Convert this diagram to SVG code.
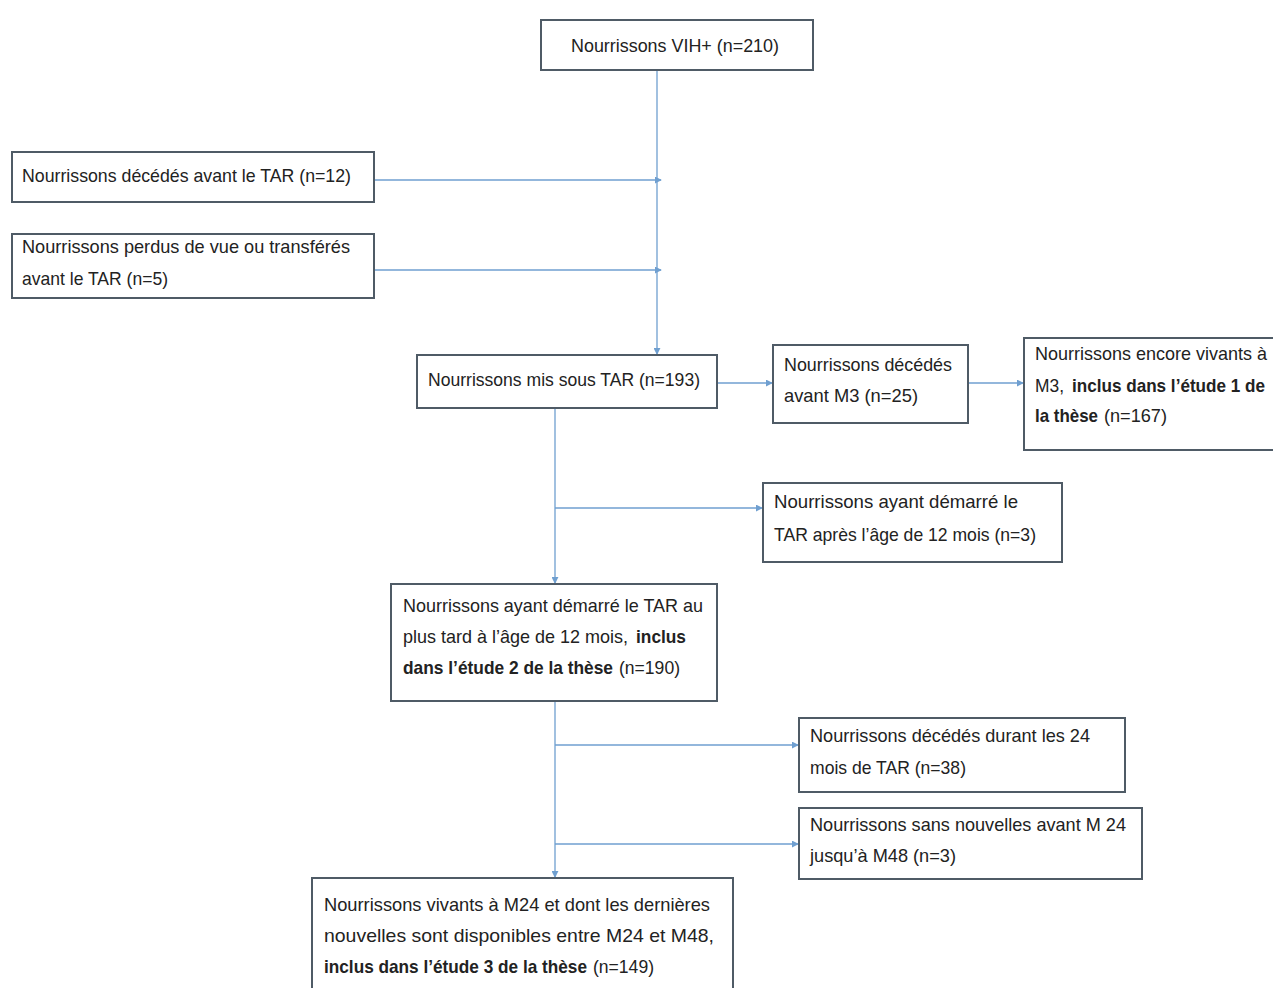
<svg xmlns="http://www.w3.org/2000/svg" width="1273" height="988" viewBox="0 0 1273 988">
<style>
.box{fill:#ffffff;stroke:#4f5b66;stroke-width:2}
.t{font-family:"Liberation Sans",Arial,sans-serif;font-size:19px;fill:#222222}
.b{font-weight:bold}
.c{fill:none;stroke:#6f9fd0;stroke-width:1.3}
</style>
<defs>
<marker id="ah" viewBox="0 0 8 8" refX="7" refY="4" markerWidth="7" markerHeight="7" markerUnits="userSpaceOnUse" orient="auto">
<path d="M0,0 L8,4 L0,8 z" fill="#6f9fd0"/>
</marker>
</defs>
<rect width="1273" height="988" fill="#ffffff"/>
<g id="connectors">
<line class="c" x1="657" y1="70" x2="657" y2="354" marker-end="url(#ah)"/>
<line class="c" x1="374" y1="180" x2="661" y2="180" marker-end="url(#ah)"/>
<line class="c" x1="374" y1="270" x2="661" y2="270" marker-end="url(#ah)"/>
<line class="c" x1="717" y1="383" x2="772" y2="383" marker-end="url(#ah)"/>
<line class="c" x1="968" y1="383" x2="1023" y2="383" marker-end="url(#ah)"/>
<line class="c" x1="555" y1="408" x2="555" y2="583" marker-end="url(#ah)"/>
<line class="c" x1="555" y1="508" x2="762" y2="508" marker-end="url(#ah)"/>
<line class="c" x1="555" y1="701" x2="555" y2="877" marker-end="url(#ah)"/>
<line class="c" x1="555" y1="745" x2="798" y2="745" marker-end="url(#ah)"/>
<line class="c" x1="555" y1="844" x2="798" y2="844" marker-end="url(#ah)"/>
</g>
<g id="n1">
<rect class="box" x="541" y="20" width="272" height="50"/>
<text class="t" x="571" y="52" textLength="208" lengthAdjust="spacingAndGlyphs">Nourrissons VIH+ (n=210)</text>
</g>
<g id="n2">
<rect class="box" x="12" y="152" width="362" height="50"/>
<text class="t" x="22" y="182" textLength="329" lengthAdjust="spacingAndGlyphs">Nourrissons décédés avant le TAR (n=12)</text>
</g>
<g id="n3">
<rect class="box" x="12" y="234" width="362" height="64"/>
<text class="t" x="22" y="253" textLength="328" lengthAdjust="spacingAndGlyphs">Nourrissons perdus de vue ou transférés</text>
<text class="t" x="22" y="285" textLength="146" lengthAdjust="spacingAndGlyphs">avant le TAR (n=5)</text>
</g>
<g id="n4">
<rect class="box" x="417" y="355" width="300" height="53"/>
<text class="t" x="428" y="386" textLength="272" lengthAdjust="spacingAndGlyphs">Nourrissons mis sous TAR (n=193)</text>
</g>
<g id="n5">
<rect class="box" x="773" y="345" width="195" height="78"/>
<text class="t" x="784" y="371" textLength="168" lengthAdjust="spacingAndGlyphs">Nourrissons décédés</text>
<text class="t" x="784" y="402" textLength="134" lengthAdjust="spacingAndGlyphs">avant M3 (n=25)</text>
</g>
<g id="n6">
<rect class="box" x="1024" y="338" width="260" height="112"/>
<text class="t" x="1035" y="360" textLength="232" lengthAdjust="spacingAndGlyphs">Nourrissons encore vivants à</text>
<text class="t" x="1035" y="392" textLength="29" lengthAdjust="spacingAndGlyphs">M3,</text>
<text class="t b" x="1072" y="392" textLength="193" lengthAdjust="spacingAndGlyphs">inclus dans l’étude 1 de</text>
<text class="t b" x="1035" y="422" textLength="63" lengthAdjust="spacingAndGlyphs">la thèse</text>
<text class="t" x="1104" y="422" textLength="63" lengthAdjust="spacingAndGlyphs">(n=167)</text>
</g>
<g id="n7">
<rect class="box" x="763" y="483" width="299" height="79"/>
<text class="t" x="774" y="508" textLength="244" lengthAdjust="spacingAndGlyphs">Nourrissons ayant démarré  le</text>
<text class="t" x="774" y="541" textLength="262" lengthAdjust="spacingAndGlyphs">TAR après l’âge de 12 mois (n=3)</text>
</g>
<g id="n8">
<rect class="box" x="391" y="584" width="326" height="117"/>
<text class="t" x="403" y="612" textLength="300" lengthAdjust="spacingAndGlyphs">Nourrissons ayant démarré le TAR au</text>
<text class="t" x="403" y="643" textLength="225" lengthAdjust="spacingAndGlyphs">plus tard à  l’âge de 12 mois,</text>
<text class="t b" x="636" y="643" textLength="50" lengthAdjust="spacingAndGlyphs">inclus</text>
<text class="t b" x="403" y="674" textLength="210" lengthAdjust="spacingAndGlyphs">dans l’étude 2 de la thèse</text>
<text class="t" x="619" y="674" textLength="61" lengthAdjust="spacingAndGlyphs">(n=190)</text>
</g>
<g id="n9">
<rect class="box" x="799" y="718" width="326" height="74"/>
<text class="t" x="810" y="742" textLength="280" lengthAdjust="spacingAndGlyphs">Nourrissons décédés durant les 24</text>
<text class="t" x="810" y="774" textLength="156" lengthAdjust="spacingAndGlyphs">mois de TAR (n=38)</text>
</g>
<g id="n10">
<rect class="box" x="799" y="808" width="343" height="71"/>
<text class="t" x="810" y="831" textLength="316" lengthAdjust="spacingAndGlyphs">Nourrissons sans nouvelles avant M 24</text>
<text class="t" x="810" y="862" textLength="146" lengthAdjust="spacingAndGlyphs">jusqu’à M48 (n=3)</text>
</g>
<g id="n11">
<rect class="box" x="312" y="878" width="421" height="120"/>
<text class="t" x="324" y="911" textLength="386" lengthAdjust="spacingAndGlyphs">Nourrissons vivants à M24 et dont les dernières</text>
<text class="t" x="324" y="942" textLength="390" lengthAdjust="spacingAndGlyphs">nouvelles sont disponibles entre M24 et M48,</text>
<text class="t b" x="324" y="973" textLength="263" lengthAdjust="spacingAndGlyphs">inclus dans l’étude 3 de la thèse</text>
<text class="t" x="593" y="973" textLength="61" lengthAdjust="spacingAndGlyphs">(n=149)</text>
</g>
</svg>
